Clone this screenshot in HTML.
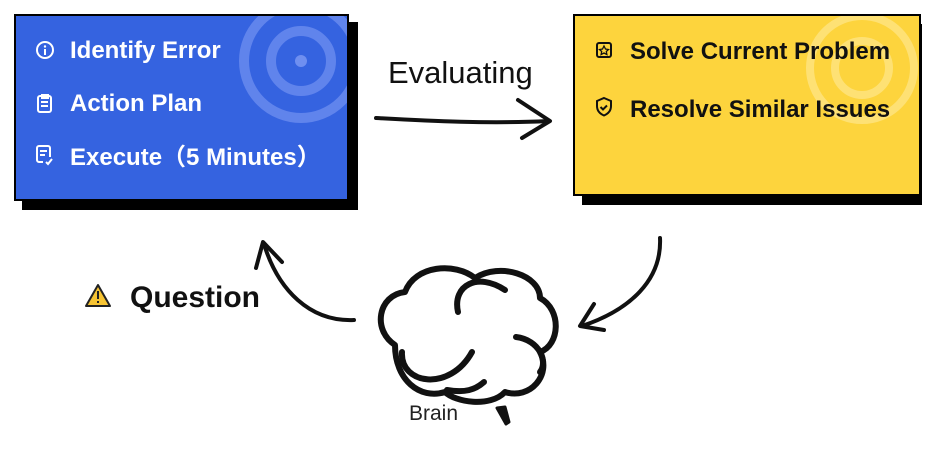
<!DOCTYPE html>
<html><head><meta charset="utf-8"><style>
html,body{margin:0;padding:0;background:#fff;width:937px;height:463px;overflow:hidden}
svg{display:block}
text{font-family:"Liberation Sans","Noto Sans CJK SC",sans-serif}
</style></head><body>
<svg width="937" height="463" viewBox="0 0 937 463" xmlns="http://www.w3.org/2000/svg">
<!-- Blue box -->
<rect x="22" y="22" width="336" height="188" fill="#000"/>
<rect x="15" y="15" width="333" height="185" fill="#3563e0" stroke="#000" stroke-width="2"/>
<clipPath id="cb"><rect x="16" y="16" width="331" height="183"/></clipPath>
<g clip-path="url(#cb)" fill="none" stroke="#6f8ff0" stroke-opacity="0.75">
<circle cx="301" cy="61" r="57" stroke-width="10"/>
<circle cx="301" cy="61" r="30" stroke-width="10"/>
<circle cx="301" cy="61" r="6" fill="#6f8ff0" stroke="none"/>
</g>
<g fill="none" stroke="#fff" stroke-width="2">
<circle cx="45" cy="50" r="8"/>
<rect x="38" y="96" width="13" height="16" rx="2"/>
<path d="M42 95h6v3h-6z M41 102h7 M41 106h7"/>
<path d="M50 157v-9a2 2 0 0 0-2-2h-9a2 2 0 0 0-2 2v12a2 2 0 0 0 2 2h4 M40 151h7 M40 155h5 M46 162l2 2 4-5"/>
</g>
<circle cx="45" cy="46.5" r="1.2" fill="#fff"/><rect x="44" y="49" width="2" height="6" fill="#fff"/>
<g fill="#fff" font-size="24" font-weight="bold">
<text x="70" y="58">Identify Error</text>
<text x="70" y="111">Action Plan</text>
<text x="70" y="165">Execute（5 Minutes）</text>
</g>
<!-- Yellow box -->
<rect x="582" y="24" width="340" height="181" fill="#000"/>
<rect x="574" y="15" width="346" height="180" fill="#fdd43d" stroke="#000" stroke-width="2"/>
<clipPath id="cy"><rect x="575" y="16" width="344" height="178"/></clipPath>
<g clip-path="url(#cy)" fill="none" stroke="#fee27a" stroke-opacity="0.9">
<circle cx="862" cy="68" r="52" stroke-width="8"/>
<circle cx="862" cy="68" r="27" stroke-width="8"/>
</g>
<g fill="none" stroke="#111" stroke-width="2">
<rect x="597" y="43" width="14" height="14" rx="2"/>
<path d="M604 46l1.5 3 3 .5-2.2 2 .6 3-2.9-1.5-2.9 1.5.6-3-2.2-2 3-.5z" stroke-width="1.3"/>
<path d="M604 98l7 3v5c0 5-3.5 8-7 9.5-3.5-1.5-7-4.5-7-9.5v-5z M600.5 107l2.5 2.5 4-4"/>
</g>
<g fill="#111" font-size="24" font-weight="bold">
<text x="630" y="59">Solve Current Problem</text>
<text x="630" y="117">Resolve Similar Issues</text>
</g>
<!-- Evaluating -->
<text x="388" y="83" font-size="31" fill="#111">Evaluating</text>
<g fill="none" stroke="#111" stroke-width="4" stroke-linecap="round" stroke-linejoin="round">
<path d="M376 118 C430 121 490 124 548 121"/>
<path d="M518 100 L550 121 L522 138"/>
<path d="M660 238 C662 280 630 310 582 326"/>
<path d="M594 304 L580 326 L604 330"/>
<path d="M354 320 C310 322 278 290 264 244"/>
<path d="M256 268 L263 242 L282 262"/>
</g>
<!-- Question -->
<path d="M98 285 L110 306 L86 306 Z" fill="#f7c433" stroke="#222" stroke-width="2" stroke-linejoin="round"/>
<rect x="97" y="291" width="2" height="8" fill="#222"/><rect x="97" y="301" width="2" height="2" fill="#222"/>
<text x="130" y="307" font-size="30" font-weight="bold" fill="#111">Question</text>
<!-- Brain -->
<g fill="#fff" stroke="#111" stroke-width="6" stroke-linecap="round" stroke-linejoin="round">
<path d="M395 345 C372 330 378 295 405 292 C415 265 455 262 475 278 C500 262 540 275 540 298 C562 310 560 345 540 352 C552 375 530 400 505 392 C490 408 455 402 445 392 C420 400 395 380 395 345 Z"/>
<path d="M458 312 C452 285 478 272 505 290" fill="none"/>
<path d="M402 352 C400 385 450 392 472 352" fill="none"/>
<path d="M516 337 C540 340 548 362 540 372" fill="none"/>
<path d="M447 390 C465 393 475 390 484 382" fill="none"/>
</g>
<path d="M497 408 L505 407 L509 422 L506 424 Z" fill="#111" stroke="#111" stroke-width="3" stroke-linejoin="round"/>
<text x="409" y="420" font-size="21" fill="#222">Brain</text>
</svg>
</body></html>
